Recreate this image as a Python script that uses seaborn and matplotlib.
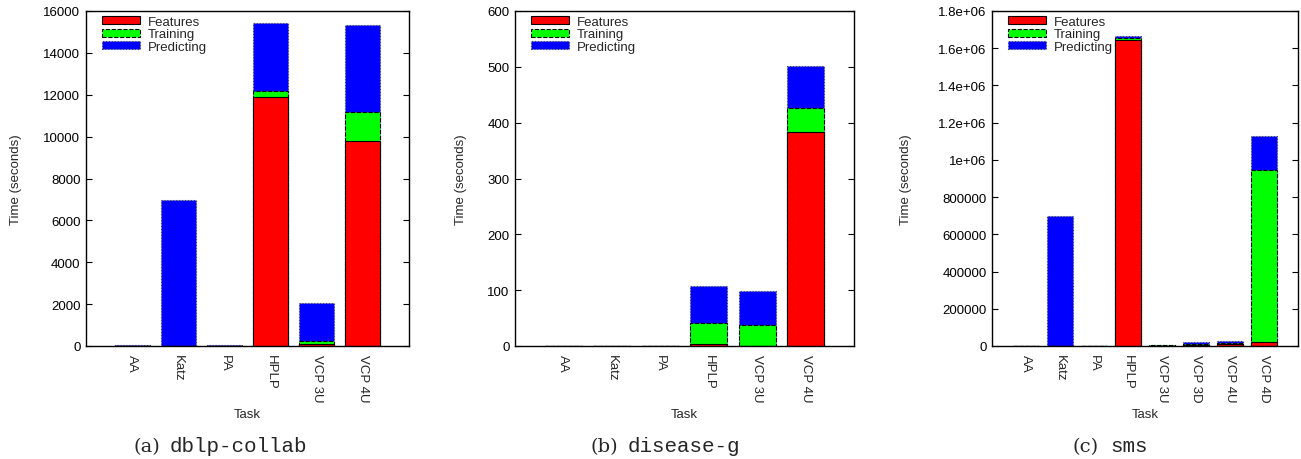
import matplotlib
matplotlib.use("Agg")
import matplotlib.pyplot as plt
import seaborn as sns
import pandas as pd
import numpy as np
from matplotlib.patches import Patch

sns.set_theme(style="white")
plt.rcParams['font.family'] = ['Liberation Sans', 'DejaVu Sans']

# ---------------- data ----------------
tasks_a = ["AA", "Katz", "PA", "HPLP", "VCP 3U", "VCP 4U"]
feat_a = [2, 0, 2, 11890, 80, 9800]
train_a = [3, 0, 3, 285, 150, 1360]
pred_a = [25, 6950, 20, 3250, 1810, 4170]

tasks_b = ["AA", "Katz", "PA", "HPLP", "VCP 3U", "VCP 4U"]
feat_b = [0.1, 0.1, 0.1, 3.6, 0.5, 383]
train_b = [0.2, 0.2, 0.2, 37, 36.5, 44]
pred_b = [0.5, 0.5, 0.5, 67, 62, 74]

tasks_c = ["AA", "Katz", "PA", "HPLP", "VCP 3U", "VCP 3D", "VCP 4U", "VCP 4D"]
feat_c = [100, 0, 100, 1646000, 1500, 4000, 9000, 23000]
train_c = [200, 0, 200, 7000, 2000, 5000, 8000, 920000]
pred_c = [500, 699000, 500, 11000, 3500, 11000, 12000, 185000]

yticks_a = [0, 2000, 4000, 6000, 8000, 10000, 12000, 14000, 16000]
yticks_b = [0, 100, 200, 300, 400, 500, 600]
yticks_c = [0, 200000, 400000, 600000, 800000, 1000000, 1200000, 1400000, 1600000, 1800000]
yticklabels_c = ["0", "200000", "400000", "600000", "800000", "1e+06", "1.2e+06",
                 "1.4e+06", "1.6e+06", "1.8e+06"]

series_names = ["Features", "Training", "Predicting"]
colors = ["#ff0000", "#00ff00", "#0000ff"]
edge_styles = [("-", "black"), ("--", "black"), (":", "#444444")]

captions = [("(a)", "dblp-collab"), ("(b)", "disease-g"), ("(c)", "sms")]

W, H = 1301, 460
fig = plt.figure(figsize=(W / 100, H / 100), dpi=100)

# axes boxes in pixels: left, right, top, bottom
boxes = [(86, 409, 12, 347), (515, 854, 12, 347), (992, 1298, 12, 347)]
ylabel_x = [22, 467, 912]
cap_pos = [(160, 170), (618, 628), (1099, 1110)]
widths = [0.76, 0.76, 0.79]

panels = [
    (tasks_a, feat_a, train_a, pred_a, yticks_a, [str(t) for t in yticks_a]),
    (tasks_b, feat_b, train_b, pred_b, yticks_b, [str(t) for t in yticks_b]),
    (tasks_c, feat_c, train_c, pred_c, yticks_c, yticklabels_c),
]

for i, (tasks, f, t, p, yt, ytl) in enumerate(panels):
    l, r, tp, bt = boxes[i]
    ax = fig.add_axes([l / W, 1 - bt / H, (r - l) / W, (bt - tp) / H])
    f = np.array(f, float)
    t = np.array(t, float)
    p = np.array(p, float)
    cums = [f + t + p, f + t, f]
    order_idx = [2, 1, 0]
    for cum, si in zip(cums, order_idx):
        df = pd.DataFrame({"Task": tasks, "Time": cum})
        ls, ec = edge_styles[si]
        sns.barplot(data=df, x="Task", y="Time", order=tasks, color=colors[si],
                    saturation=1, width=widths[i], errorbar=None, ax=ax,
                    edgecolor=ec, linewidth=0.8, linestyle=ls)
    n = len(tasks)
    ax.set_xlim(-1, n)
    ax.set_ylim(yt[0], yt[-1])
    ax.set_yticks(yt)
    ax.set_yticklabels(ytl)
    ax.tick_params(axis="y", direction="in", length=4, width=0.8, left=True,
                   right=True, labelsize=9.5, pad=4, colors="black")
    ax.tick_params(axis="x", length=0, labelsize=9.5, pad=6, labelrotation=-90)
    for lab in ax.get_xticklabels():
        lab.set_va("top")
        lab.set_ha("center")
    for s in ax.spines.values():
        s.set_visible(True)
        s.set_color("black")
        s.set_linewidth(1.0)
    ax.set_xlabel("Task", fontsize=9.5, labelpad=0)
    ax.xaxis.set_label_coords(0.5, -(409 - bt) / (bt - tp))
    ax.set_ylabel("Time (seconds)", fontsize=9.5)
    ax.yaxis.set_label_coords(-(l - ylabel_x[i]) / (r - l), 0.5)

    handles = [Patch(facecolor=colors[k], edgecolor=edge_styles[k][1],
                     linestyle=edge_styles[k][0], linewidth=0.8) for k in range(3)]
    ax.legend(handles, series_names, loc="upper left",
              bbox_to_anchor=(16 / (r - l), 1 - 4.5 / (bt - tp)),
              frameon=False, fontsize=9.5, handlelength=2.9, handleheight=0.55,
              labelspacing=0.06, handletextpad=0.6, borderpad=0, borderaxespad=0)

    a, b = cap_pos[i]
    fig.text(a / W, 1 - 447 / H, captions[i][0], ha="right", va="center",
             fontsize=14, family="DejaVu Serif")
    fig.text(b / W, 1 - 447 / H, captions[i][1], ha="left", va="center",
             fontsize=15, family="Liberation Mono")

fig.savefig("out.png", dpi=100)
